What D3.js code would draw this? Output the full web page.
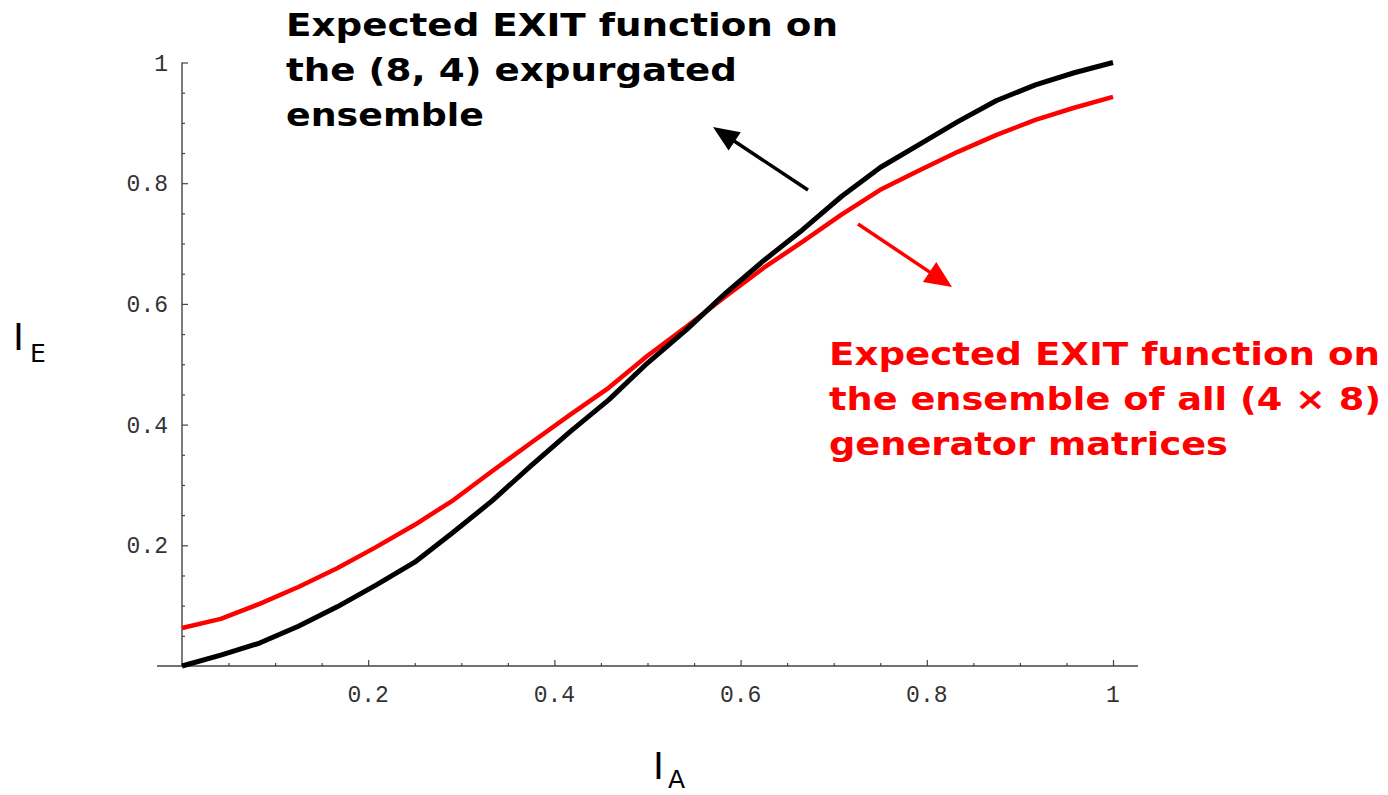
<!DOCTYPE html>
<html><head><meta charset="utf-8">
<script src="https://cdn.jsdelivr.net/npm/d3@7"></script>
<style>html,body{margin:0;padding:0;background:#fff;}svg{display:block;}</style>
</head><body>
<svg id="c" width="1388" height="795"></svg>
<script>
// ---- data ----
const sampleX = [0, 1/24, 2/24, 3/24, 4/24, 5/24, 6/24, 7/24, 8/24, 9/24, 10/24, 11/24, 12/24,
                 13/24, 14/24, 15/24, 16/24, 17/24, 18/24, 19/24, 20/24, 21/24, 22/24, 23/24, 1];
const blackY = [0, 0.018, 0.038, 0.066, 0.098, 0.134, 0.172, 0.222, 0.274, 0.332, 0.388, 0.441, 0.502,
                0.557, 0.617, 0.672, 0.723, 0.778, 0.826, 0.864, 0.902, 0.937, 0.963, 0.983, 1.0];
const redY = [0.063, 0.078, 0.103, 0.131, 0.162, 0.197, 0.234, 0.275, 0.323, 0.370, 0.416, 0.461, 0.514,
              0.562, 0.612, 0.660, 0.703, 0.748, 0.789, 0.821, 0.852, 0.880, 0.905, 0.925, 0.943];
const xTickLabels = ["0.2", "0.4", "0.6", "0.8", "1"];
const xTickValues = [0.2, 0.4, 0.6, 0.8, 1];
const yTickLabels = ["0.2", "0.4", "0.6", "0.8", "1"];
const yTickValues = [0.2, 0.4, 0.6, 0.8, 1];
const blackNote = ["Expected EXIT function on", "the (8, 4) expurgated", "ensemble"];
const redNote = ["Expected EXIT function on", "the ensemble of all (4 \u00d7 8)", "generator matrices"];

// ---- layout ----
const svg = d3.select("#c");
const x = d3.scaleLinear().domain([0, 1]).range([182, 1113]);
const y = d3.scaleLinear().domain([0, 1]).range([666, 62.5]);
const axisColor = "#444";

// axes lines
svg.append("line").attr("x1", 157).attr("x2", 1138).attr("y1", y(0)).attr("y2", y(0))
  .attr("stroke", axisColor).attr("stroke-width", 1.4);
svg.append("line").attr("x1", x(0)).attr("x2", x(0)).attr("y1", y(0)).attr("y2", y(1))
  .attr("stroke", axisColor).attr("stroke-width", 1.4);

// ticks
const minor = d3.range(1, 21).map(i => i * 0.05);
const isMajor = v => Math.abs(v * 5 - Math.round(v * 5)) < 1e-6;
const xAxis = d3.axisTop(x).tickValues(minor).tickSizeInner(0).tickSizeOuter(0).tickFormat("");
const gx = svg.append("g").attr("transform", `translate(0,${y(0)})`).call(xAxis);
gx.select(".domain").remove();
gx.selectAll(".tick line").attr("y2", d => isMajor(d) ? -6 : -3).attr("stroke", axisColor).attr("stroke-width", 1.2);
const yAxis = d3.axisRight(y).tickValues(minor).tickSizeInner(0).tickSizeOuter(0).tickFormat("");
const gy = svg.append("g").attr("transform", `translate(${x(0)},0)`).call(yAxis);
gy.select(".domain").remove();
gy.selectAll(".tick line").attr("x2", d => isMajor(d) ? 6 : 3).attr("stroke", axisColor).attr("stroke-width", 1.2);

// tick labels
const monoFont = "'Liberation Mono', 'DejaVu Sans Mono', monospace";
svg.append("g").selectAll("text").data(xTickValues).join("text")
  .attr("x", d => x(d)).attr("y", 702).attr("text-anchor", "middle")
  .attr("font-family", monoFont).attr("font-size", 23).attr("fill", "#333")
  .text((d, i) => xTickLabels[i]);
svg.append("g").selectAll("text").data(yTickValues).join("text")
  .attr("x", 168).attr("y", d => y(d) + 8).attr("text-anchor", "end")
  .attr("font-family", monoFont).attr("font-size", 23).attr("fill", "#333")
  .text((d, i) => yTickLabels[i]);

// axis titles
const sansFont = "'DejaVu Sans', Verdana, sans-serif";
const ie = svg.append("text").attr("x", 13).attr("y", 350).attr("font-family", sansFont).attr("fill", "#000");
ie.append("tspan").attr("font-size", 37).text("I");
ie.append("tspan").attr("font-size", 25).attr("dx", 6).attr("dy", 12).text("E");
const ia = svg.append("text").attr("x", 653).attr("y", 779).attr("font-family", sansFont).attr("fill", "#000");
ia.append("tspan").attr("font-size", 37).text("I");
ia.append("tspan").attr("font-size", 25).attr("dx", 4).attr("dy", 9).text("A");

// curves
const line = d3.line().x(d => x(d[0])).y(d => y(d[1]));
svg.append("path").datum(sampleX.map((v, i) => [v, redY[i]])).attr("d", line)
  .attr("fill", "none").attr("stroke", "#ff0000").attr("stroke-width", 4.5).attr("stroke-linejoin", "round");
svg.append("path").datum(sampleX.map((v, i) => [v, blackY[i]])).attr("d", line)
  .attr("fill", "none").attr("stroke", "#000").attr("stroke-width", 5).attr("stroke-linejoin", "round");

// arrows
function arrow(x1, y1, x2, y2, color, len, hw, sw) {
  const dx = x2 - x1, dy = y2 - y1, L = Math.hypot(dx, dy);
  const ux = dx / L, uy = dy / L;
  const bx = x2 - ux * len, by = y2 - uy * len;
  svg.append("line").attr("x1", x1).attr("y1", y1).attr("x2", bx + ux * 2).attr("y2", by + uy * 2)
    .attr("stroke", color).attr("stroke-width", sw);
  svg.append("polygon").attr("points",
    [[x2, y2], [bx - uy * hw, by + ux * hw], [bx + uy * hw, by - ux * hw]].map(p => p.join(",")).join(" "))
    .attr("fill", color);
}
arrow(808, 190, 713, 127, "#000", 26, 11, 3.5);
arrow(858, 224, 952, 287, "#ff0000", 27, 12, 3.5);

// annotations
const boldFont = "'DejaVu Sans', Verdana, sans-serif";
const blackW = [552, 451, 198];
blackNote.forEach((t, i) => {
  svg.append("text").attr("x", 286).attr("y", 36 + i * 45)
    .attr("font-family", boldFont).attr("font-weight", "bold").attr("font-size", 32)
    .attr("fill", "#000").attr("textLength", blackW[i]).attr("lengthAdjust", "spacingAndGlyphs").text(t);
});
const redW = [551, 552, 399];
redNote.forEach((t, i) => {
  svg.append("text").attr("x", 829).attr("y", 365 + i * 45)
    .attr("font-family", boldFont).attr("font-weight", "bold").attr("font-size", 32)
    .attr("fill", "#ff0000").attr("textLength", redW[i]).attr("lengthAdjust", "spacingAndGlyphs").text(t);
});
</script>
</body></html>
